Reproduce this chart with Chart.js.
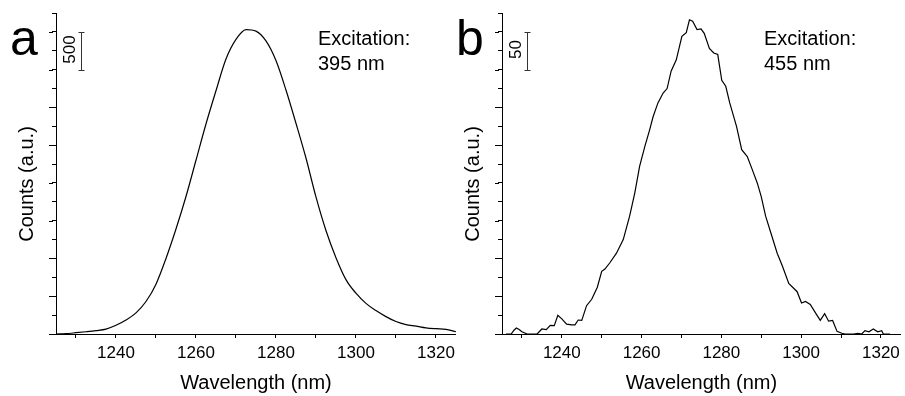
<!DOCTYPE html>
<html>
<head>
<meta charset="utf-8">
<script src="https://cdn.jsdelivr.net/npm/chart.js@4.4.0/dist/chart.umd.min.js"></script>
<style>
  html, body { margin: 0; padding: 0; background: #fff; }
  #wrap { position: relative; width: 905px; height: 396px; overflow: hidden; }
  canvas { position: absolute; top: 0; }
  #chartA { left: 0; }
  #chartB { left: 446px; }
</style>
</head>
<body>
<div id="wrap">
  <canvas id="chartA" width="460" height="396"></canvas>
  <canvas id="chartB" width="459" height="396"></canvas>
</div>
<script>
// panel a - excitation 395 nm
const wavelengthA = [1225, 1227.5, 1230, 1232.5, 1235, 1237.5, 1240, 1242.5, 1245, 1247.5,
  1250, 1252.5, 1255, 1257.5, 1260, 1262.5, 1265, 1267.5, 1270, 1272.5,
  1275, 1277.5, 1280, 1282.5, 1285, 1287.5, 1290, 1292.5, 1295, 1297.5,
  1300, 1302.5, 1305, 1307.5, 1310, 1312.5, 1315, 1317.5, 1320, 1322.5, 1325];
const countsA = [0, 5, 17, 30, 45, 65, 115, 185, 280, 430,
  660, 1000, 1390, 1820, 2300, 2780, 3220, 3640, 3900, 4030,
  4010, 3880, 3620, 3230, 2790, 2330, 1815, 1370, 1010, 720,
  540, 405, 310, 230, 165, 125, 105, 82, 70, 62, 30];

// panel b - excitation 455 nm (noisy)
const wavelengthB = [1226, 1227.3, 1228, 1228.6, 1229.3, 1230, 1231.3, 1233.8, 1235, 1236.1,
  1237.1, 1238.1, 1239, 1240, 1241.2, 1242.5, 1243.3, 1244.1, 1245, 1246.2,
  1247.5, 1248.9, 1250, 1250.8, 1252, 1253.7, 1255.4, 1257, 1258.3, 1259.5,
  1260.8, 1262, 1262.9, 1264.1, 1265.4, 1266.4, 1267.4, 1268.7, 1270.1, 1271.2,
  1272, 1272.8, 1273.9, 1274.9, 1275.7, 1277, 1278.1, 1279.1, 1280.1, 1281.1,
  1282.1, 1283.8, 1285.1, 1286.5, 1287.8, 1289, 1290, 1291.1, 1292.4, 1294,
  1295.3, 1296.9, 1299, 1300.1, 1301.1, 1302.3, 1303.6, 1304.8, 1305.9, 1306.9,
  1307.9, 1309, 1310.2, 1311, 1313.2, 1314.2, 1315.2, 1316, 1317, 1318.1,
  1319.2, 1320.2, 1320.6, 1322.3];
const countsB = [0, 0, 5, 8, 6, 3, 0, 0, 6.6, 5.7,
  11.5, 11, 24.7, 20, 13, 12, 12, 18.5, 18, 37.5,
  46, 62, 83, 86, 94, 107, 125, 156, 187, 222,
  248, 270, 288, 306, 319, 325, 348, 363, 394, 399,
  416, 414, 403, 404, 398, 378, 372, 370, 336, 328,
  306, 275, 244, 235, 217, 200, 182, 156, 134, 107,
  90, 67, 56, 41, 43, 39, 28, 18, 27, 17,
  18, 3.5, 1, 0, 0, 1, 0, 4.4, 3, 6.6,
  3, 4.4, 0, 0];

// x axis: ticks every 10 nm, labels every 20 nm
const xMin = 1225, xMax = 1325;
const xTicks = [1230, 1240, 1250, 1260, 1270, 1280, 1290, 1300, 1310, 1320];
const xLabels = [1240, 1260, 1280, 1300, 1320];
const font = "'Liberation Sans', Arial, sans-serif";

function decor(opts) {
  return {
    id: 'decor',
    afterDraw(chart) {
      const ctx = chart.ctx;
      const y = chart.scales.y;
      const area = chart.chartArea;
      ctx.save();
      ctx.strokeStyle = '#000';
      ctx.lineWidth = 1;
      // longer major ticks on y axis
      ctx.beginPath();
      y.ticks.forEach(t => {
        if (t.value % opts.major === 0) {
          const py = Math.round(y.getPixelForValue(t.value)) + 0.5;
          ctx.moveTo(area.left - 7, py);
          ctx.lineTo(area.left - 3, py);
        }
      });
      ctx.stroke();

      // scale bar
      const bx = Math.round(area.left + 25) + 0.5;
      const b1 = Math.round(y.getPixelForValue(opts.barTop)) + 0.5;
      const b2 = Math.round(y.getPixelForValue(opts.barTop - opts.major)) + 0.5;
      ctx.strokeStyle = '#333';
      ctx.beginPath();
      ctx.moveTo(bx, b1); ctx.lineTo(bx, b2);
      ctx.moveTo(bx - 3, b1); ctx.lineTo(bx + 3, b1);
      ctx.moveTo(bx - 3, b2); ctx.lineTo(bx + 3, b2);
      ctx.stroke();

      ctx.fillStyle = '#000';
      ctx.textBaseline = 'middle';
      ctx.textAlign = 'center';
      ctx.save();
      ctx.translate(area.left + 14, (b1 + b2) / 2 - 2);
      ctx.rotate(-Math.PI / 2);
      ctx.font = '17px ' + font;
      ctx.fillText(String(opts.major), 0, 0);
      ctx.restore();

      // y axis title
      ctx.save();
      ctx.translate(area.left - 28.5, area.bottom - 150);
      ctx.rotate(-Math.PI / 2);
      ctx.font = '20px ' + font;
      ctx.fillText('Counts (a.u.)', 0, 0);
      ctx.restore();

      // panel letter and excitation note
      ctx.textAlign = 'left';
      ctx.textBaseline = 'alphabetic';
      ctx.font = '50px ' + font;
      ctx.fillText(opts.letter, area.left - 46, 55);
      ctx.font = '20px ' + font;
      ctx.fillText('Excitation:', area.left + 262, 45);
      ctx.fillText(opts.excitation, area.left + 262, 70);
      ctx.restore();
    }
  };
}

function makePanel(id, xs, ys, opts) {
  const points = xs.map((x, i) => ({ x: x, y: ys[i] }));
  return new Chart(document.getElementById(id), {
    type: 'line',
    data: {
      datasets: [{
        data: points,
        borderColor: '#000',
        borderWidth: 1.2,
        pointRadius: 0,
        fill: false,
        tension: opts.smooth ? 0.4 : 0,
        cubicInterpolationMode: opts.smooth ? 'monotone' : 'default'
      }]
    },
    options: {
      responsive: false,
      animation: false,
      layout: { padding: { top: 13, right: opts.padRight, bottom: 0, left: 0 } },
      plugins: { legend: { display: false }, tooltip: { enabled: false } },
      scales: {
        x: {
          type: 'linear',
          min: xMin,
          max: xMax,
          afterBuildTicks: s => { s.ticks = xTicks.map(v => ({ value: v })); },
          afterFit: s => { s.height = 62; },
          border: { display: true, color: '#000', width: 1 },
          grid: { drawOnChartArea: false, drawTicks: true, tickLength: 4, tickColor: '#000' },
          ticks: {
            autoSkip: false,
            maxRotation: 0,
            padding: 5,
            color: '#000',
            font: { family: font, size: 17 },
            callback: v => (xLabels.includes(v) ? String(v) : '')
          },
          title: {
            display: true,
            text: 'Wavelength (nm)',
            color: '#000',
            font: { family: font, size: 20 },
            padding: { top: 0, bottom: 1 }
          }
        },
        y: {
          min: 0,
          max: opts.yMax,
          afterFit: s => { s.width = 56; },
          border: { display: true, color: '#000', width: 1 },
          grid: { drawOnChartArea: false, drawTicks: true, tickLength: 4, tickColor: '#000' },
          ticks: { stepSize: opts.major / 2, display: false }
        }
      }
    },
    plugins: [decor(opts)]
  });
}

makePanel('chartA', wavelengthA, countsA, {
  letter: 'a', excitation: '395 nm', major: 500, barTop: 4000, yMax: 4250, padRight: 3, smooth: true
});
makePanel('chartB', wavelengthB, countsB, {
  letter: 'b', excitation: '455 nm', major: 50, barTop: 400, yMax: 425, padRight: 4, smooth: false
});
</script>
</body>
</html>
